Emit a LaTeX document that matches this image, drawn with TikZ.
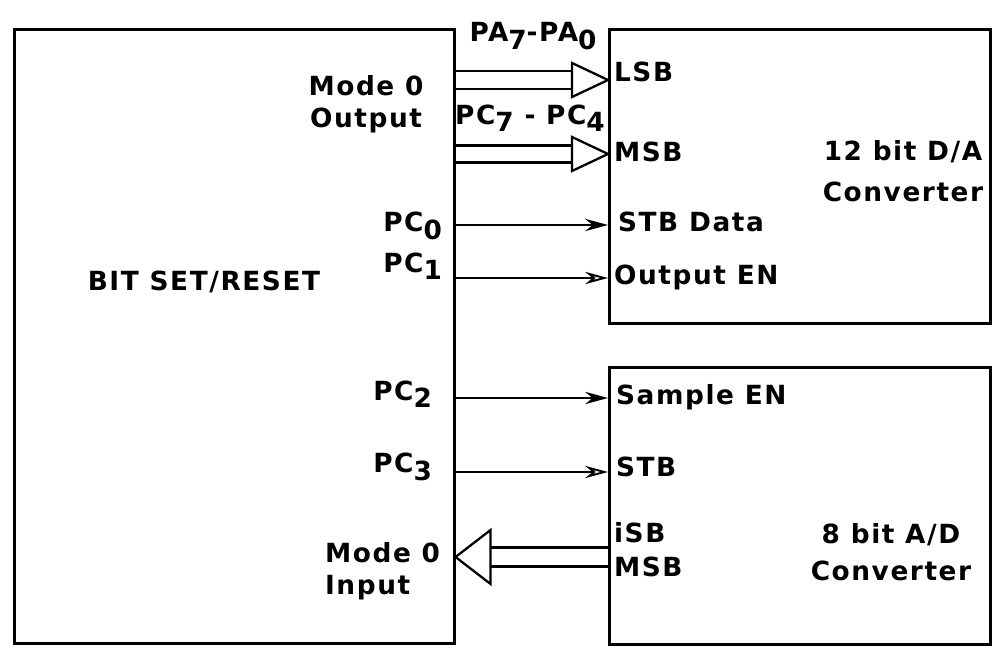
\documentclass[tikz,border=0pt]{standalone}
\usepackage{fontspec}
\setmainfont{DejaVu Sans}[LetterSpace=6]
\usetikzlibrary{arrows.meta,calc}

\newcommand{\lo}[1]{\raisebox{-0.5ex}{#1}}

\tikzset{
  unit/.style={draw, line width=1.5pt, anchor=north west, inner sep=0pt},
  sig/.style={line width=1.1pt, -{Stealth[length=13pt,width=7pt]}},
  sigopen/.style={line width=1.1pt, -{Stealth[open,length=13pt,width=7pt]}},
  bus/.style={line width=1.3pt},
  lbl/.style={inner sep=1pt, font=\fontsize{15}{18}\selectfont\bfseries},
}

\begin{document}
\begin{tikzpicture}[x=0.02cm, y=-0.02cm]
  \useasboundingbox (0,0) rectangle (992,651);

  % the three units
  \node[unit, minimum width=8.8cm, minimum height=12.28cm] (ppi) at (13,28) {};
  \node[unit, minimum width=7.62cm, minimum height=5.88cm] (dac) at (608,28) {};
  \node[unit, minimum width=7.62cm, minimum height=5.54cm] (adc) at (608,366) {};

  % texts of the 8255 side
  \node[lbl] (bsr) at (204,282) {BIT SET/RESET};
  \node[lbl, align=center] (mdout) at (366,104) {Mode 0\\Output};
  \node[lbl, align=left, anchor=west] (mdin) at (323,571) {Mode 0\\Input};
  \node[lbl, anchor=east] (pc0) at (444,226) {PC\lo{0}};
  \node[lbl, anchor=east] (pc1) at (444,266) {PC\lo{1}};
  \node[lbl, anchor=east] (pc2) at (434,394) {PC\lo{2}};
  \node[lbl, anchor=east] (pc3) at (434,467) {PC\lo{3}};
  \node[lbl] (pa) at (533,36) {PA\lo{7}-PA\lo{0}};
  \node[lbl] (pc) at (530,118) {PC\lo{7} - PC\lo{4}};

  % texts of the D/A converter
  \node[lbl, anchor=west] (lsb) at (612,72) {LSB};
  \node[lbl, anchor=west] (msb) at (612,152) {MSB};
  \node[lbl, anchor=west] (stbd) at (616,222) {STB Data};
  \node[lbl, anchor=west] (outen) at (612,277) {Output EN};
  \node[lbl, align=center] (dacname) at (903,171) {12 bit D/A\\[5pt]Converter};

  % texts of the A/D converter
  \node[lbl, anchor=west] (smpen) at (614,397) {Sample EN};
  \node[lbl, anchor=west] (stb) at (614,467) {STB};
  \node[lbl, anchor=west] (isb) at (612,533) {iSB};
  \node[lbl, anchor=west] (amsb) at (612,567) {MSB};
  \node[lbl, align=center] (adcname) at (891,552) {8 bit A/D\\[3pt]Converter};

  % port A and upper port C buses
  \coordinate (pa-o) at (ppi.east |- 0,80);
  \coordinate (pa-i) at (dac.west |- 0,80);
  \draw[bus] ($(pa-o)+(0,-9)$) -- ($(pa-i)+(-36,-9)$)
             ($(pa-o)+(0,9)$) -- ($(pa-i)+(-36,9)$);
  \draw[bus] (pa-i) -- ++(-36,-17) -- ++(0,34) -- cycle;

  \coordinate (pc-o) at (ppi.east |- 0,154);
  \coordinate (pc-i) at (dac.west |- 0,154);
  \draw[bus] ($(pc-o)+(0,-8.5)$) -- ($(pc-i)+(-36,-8.5)$)
             ($(pc-o)+(0,8.5)$) -- ($(pc-i)+(-36,8.5)$);
  \draw[bus] (pc-i) -- ++(-36,-17) -- ++(0,34) -- cycle;

  % control lines
  \draw[sig] (ppi.east |- 0,225) -- (dac.west |- 0,225);
  \draw[sigopen] (ppi.east |- 0,278) -- (dac.west |- 0,278);
  \draw[sig] (ppi.east |- 0,398) -- (adc.west |- 0,398);
  \draw[sigopen] (ppi.east |- 0,472) -- (adc.west |- 0,472);

  % data back from the A/D converter
  \coordinate (ad-o) at (adc.west |- 0,557);
  \coordinate (ad-i) at (ppi.east |- 0,557);
  \draw[bus] ($(ad-o)+(0,-9.5)$) -- ($(ad-i)+(35,-9.5)$)
             ($(ad-o)+(0,9.5)$) -- ($(ad-i)+(35,9.5)$);
  \draw[bus] (ad-i) -- ++(35,-27) -- ++(0,54) -- cycle;

\end{tikzpicture}
\end{document}
